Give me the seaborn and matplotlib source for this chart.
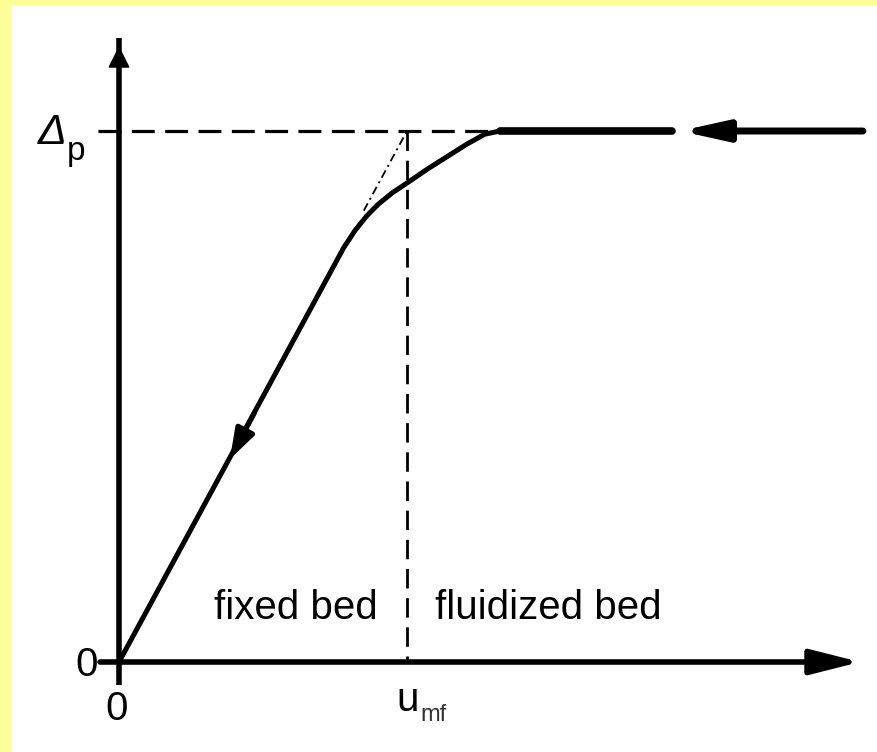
import matplotlib
matplotlib.use("Agg")
import matplotlib.pyplot as plt
import seaborn as sns
import pandas as pd
from matplotlib.patches import Rectangle

# ---- data (x in units of u_mf, y in units of delta p) ----
curve_x = [0.0, 0.78, 0.82, 0.86, 0.90, 0.95, 1.0, 1.07, 1.14, 1.21, 1.27, 1.323]
curve_y = [0.0, 0.78, 0.813, 0.84, 0.862, 0.884, 0.902, 0.928, 0.952, 0.976, 0.994, 1.0]
plateau_x = [1.323, 1.92]
plateau_y = [1.0, 1.0]
extrap_x = [0.85, 1.0]
extrap_y = [0.85, 1.0]
u_mf = 1.0
dp_level = 1.0
region_labels = ["fixed bed", "fluidized bed"]
region_x = [0.615, 1.49]

sns.set_theme(style="white")
plt.rcParams["font.family"] = ["Liberation Sans", "DejaVu Sans"]
plt.rcParams["lines.scale_dashes"] = False
plt.rcParams["text.color"] = "black"

fig = plt.figure(figsize=(8.78, 7.52), dpi=100)
fig.patch.set_facecolor("white")
ax = fig.add_axes([0, 0, 1, 1])
ax.set_xlim(-119 / 288, (878 - 119) / 288)
ax.set_ylim((662 - 752) / 531, 662 / 531)
ax.axis("off")

# yellow border strips (left and top)
fig.add_artist(Rectangle((0, 0), 12 / 878, 1, transform=fig.transFigure,
                         facecolor="#FFFF99", edgecolor="none"))
fig.add_artist(Rectangle((0, 1 - 6 / 752), 1, 6 / 752, transform=fig.transFigure,
                         facecolor="#FFFF99", edgecolor="none"))

# dashed guide lines
ax.plot([-0.073, 1.28], [dp_level, dp_level], color="black", lw=2.3,
        dashes=(16.5, 7.5), zorder=2)
ax.plot([u_mf, u_mf], [dp_level, 0], color="black", lw=2.0,
        dashes=(14, 7), zorder=2)
# dash-dot extrapolation
ax.plot(extrap_x, extrap_y, color="black", lw=1.3,
        dashes=(6, 3, 1.5, 3), zorder=2)

# axes lines
ax.plot([0, 0], [-0.043, 1.175], color="black", lw=4, solid_capstyle="butt", zorder=3)
ax.annotate("", xy=(0, 1.16), xytext=(0, 1.10),
            arrowprops=dict(arrowstyle="-|>,head_length=0.7,head_width=0.35",
                            color="black", lw=1, shrinkA=0, shrinkB=0,
                            mutation_scale=20), zorder=3)
ax.annotate("", xy=(2.573, 0), xytext=(-0.066, 0),
            arrowprops=dict(arrowstyle="-|>,head_length=1.5,head_width=0.38",
                            color="black", lw=4, shrinkA=0, shrinkB=0,
                            mutation_scale=20), zorder=3)

# main curve
df_curve = pd.DataFrame({"x": curve_x, "y": curve_y})
sns.lineplot(data=df_curve, x="x", y="y", ax=ax, color="black", lw=3.6,
             sort=False, estimator=None, zorder=4)
df_plat = pd.DataFrame({"x": plateau_x, "y": plateau_y})
sns.lineplot(data=df_plat, x="x", y="y", ax=ax, color="black", lw=5.5,
             sort=False, estimator=None, zorder=4)

# arrow on the rising line (pointing down)
ax.annotate("", xy=(0.385, 0.382), xytext=(0.47, 0.469),
            arrowprops=dict(arrowstyle="-|>,head_length=0.9,head_width=0.3",
                            color="black", lw=3.6, shrinkA=0, shrinkB=0,
                            mutation_scale=20), zorder=5)

# decreasing-velocity arrow on the plateau
ax.annotate("", xy=(1.948, dp_level), xytext=(2.583, dp_level),
            arrowprops=dict(arrowstyle="-|>,head_length=1.35,head_width=0.3",
                            color="black", lw=5, shrinkA=0, shrinkB=0,
                            mutation_scale=20), zorder=4)

# texts
fs = 29
for lab, xx in zip(region_labels, region_x):
    ax.text(xx, 0.102, lab, fontsize=fs, ha="center", va="center", color="black")
ax.text(-0.111, -0.006, "0", fontsize=fs, ha="center", va="center", color="black")
ax.text(-0.007, -0.0885, "0", fontsize=fs, ha="center", va="center", color="black")
ax.text(1.003, -0.072, "u", fontsize=fs, ha="center", va="center", color="black")
ax.text(1.092, -0.100, "mf", fontsize=17, ha="center", va="center", color="#333333")
ax.text(-0.2326, 0.996, "Δ", fontsize=31, ha="center", va="center", style="italic",
        color="black")
ax.text(-0.149, 0.962, "p", fontsize=24, ha="center", va="center", color="black")

fig.savefig("out.png", dpi=100, facecolor=fig.get_facecolor())
